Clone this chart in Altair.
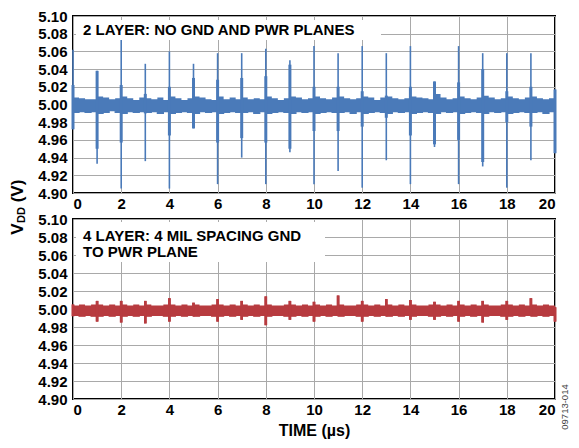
import altair as alt
import pandas as pd

# ---------------- data ----------------
# sample times of the noise envelope (µs)
band_t = [i / 4 for i in range(81)]

# top panel (2 layer) noise envelope, 4 samples per µs + final
top_band_hi = [
    5.008, 5.007, 5.006, 5.006,
    5.009, 5.008, 5.006, 5.007,
    5.009, 5.007, 5.005, 5.008,
    5.007, 5.006, 5.008, 5.005,
    5.009, 5.007, 5.005, 5.007,
    5.009, 5.008, 5.006, 5.005,
    5.009, 5.006, 5.008, 5.006,
    5.008, 5.006, 5.007, 5.006,
    5.009, 5.007, 5.005, 5.007,
    5.009, 5.008, 5.006, 5.007,
    5.009, 5.007, 5.006, 5.008,
    5.009, 5.007, 5.006, 5.007,
    5.009, 5.008, 5.005, 5.008,
    5.009, 5.007, 5.006, 5.007,
    5.009, 5.008, 5.007, 5.006,
    5.012, 5.008, 5.006, 5.007,
    5.009, 5.007, 5.006, 5.008,
    5.010, 5.008, 5.006, 5.007,
    5.009, 5.007, 5.006, 5.008,
    5.009, 5.007, 5.006, 5.007,
    5.008,
]
top_band_lo = [
    4.991, 4.992, 4.991, 4.992,
    4.990, 4.991, 4.993, 4.991,
    4.990, 4.992, 4.991, 4.992,
    4.991, 4.992, 4.990, 4.992,
    4.990, 4.991, 4.992, 4.991,
    4.990, 4.992, 4.991, 4.992,
    4.990, 4.991, 4.992, 4.991,
    4.991, 4.992, 4.990, 4.992,
    4.990, 4.991, 4.992, 4.991,
    4.990, 4.992, 4.991, 4.992,
    4.990, 4.991, 4.992, 4.991,
    4.991, 4.992, 4.990, 4.992,
    4.990, 4.991, 4.992, 4.991,
    4.990, 4.992, 4.991, 4.992,
    4.990, 4.991, 4.992, 4.991,
    4.990, 4.992, 4.991, 4.992,
    4.990, 4.991, 4.992, 4.991,
    4.990, 4.992, 4.991, 4.992,
    4.990, 4.991, 4.992, 4.991,
    4.991, 4.992, 4.990, 4.992,
    4.991,
]

# switching spikes, one per µs
spike_t = list(range(21))
top_spike_hi = [5.062, 5.038, 5.073, 5.046, 5.060, 5.046, 5.058, 5.058, 5.063, 5.050, 5.066,
                5.058, 5.066, 5.058, 5.066, 5.026, 5.066, 5.058, 5.058, 5.058, 5.017]
top_spike_lo = [4.972, 4.933, 4.905, 4.936, 4.905, 4.973, 4.910, 4.940, 4.910, 4.946, 4.910,
                4.925, 4.906, 4.937, 4.910, 4.952, 4.910, 4.930, 4.906, 4.937, 4.945]
top_core_hi = [5.022, 5.038, 5.022, 5.012, 5.020, 5.030, 5.028, 5.030, 5.032, 5.045, 5.020,
               5.020, 5.015, 5.010, 5.020, 5.026, 5.025, 5.040, 5.015, 5.020, 5.017]
top_core_lo = [4.972, 4.950, 4.957, 4.990, 4.965, 4.973, 4.957, 4.962, 4.957, 4.950, 4.970,
               4.970, 4.975, 4.985, 4.965, 4.955, 4.960, 4.935, 4.980, 4.975, 4.945]

# bottom panel (4 layer) noise envelope
bot_band_hi = [
    5.004, 5.005, 5.004, 5.005,
    5.005, 5.004, 5.005, 5.004,
    5.005, 5.004, 5.005, 5.004,
    5.005, 5.004, 5.004, 5.005,
    5.005, 5.004, 5.005, 5.004,
    5.005, 5.004, 5.004, 5.005,
    5.005, 5.004, 5.005, 5.004,
    5.005, 5.004, 5.005, 5.004,
    5.005, 5.004, 5.004, 5.005,
    5.005, 5.004, 5.005, 5.004,
    5.005, 5.004, 5.005, 5.004,
    5.005, 5.004, 5.004, 5.005,
    5.005, 5.004, 5.005, 5.004,
    5.005, 5.004, 5.005, 5.004,
    5.005, 5.004, 5.004, 5.005,
    5.005, 5.004, 5.005, 5.004,
    5.005, 5.004, 5.005, 5.004,
    5.005, 5.004, 5.004, 5.005,
    5.005, 5.004, 5.005, 5.004,
    5.005, 5.004, 5.005, 5.004,
    5.004,
]
bot_band_lo = [
    4.993, 4.992, 4.993, 4.992,
    4.992, 4.993, 4.992, 4.993,
    4.992, 4.993, 4.992, 4.993,
    4.992, 4.993, 4.993, 4.992,
    4.992, 4.993, 4.992, 4.993,
    4.992, 4.993, 4.993, 4.992,
    4.992, 4.993, 4.992, 4.993,
    4.992, 4.993, 4.992, 4.993,
    4.992, 4.993, 4.993, 4.992,
    4.992, 4.993, 4.992, 4.993,
    4.992, 4.993, 4.992, 4.993,
    4.992, 4.993, 4.993, 4.992,
    4.992, 4.993, 4.992, 4.993,
    4.992, 4.993, 4.992, 4.993,
    4.992, 4.993, 4.993, 4.992,
    4.992, 4.993, 4.992, 4.993,
    4.992, 4.993, 4.992, 4.993,
    4.992, 4.993, 4.993, 4.992,
    4.992, 4.993, 4.992, 4.993,
    4.992, 4.993, 4.992, 4.993,
    4.991,
]
bot_spike_hi = [5.005, 5.009, 5.009, 5.009, 5.012, 5.007, 5.011, 5.009, 5.014, 5.009, 5.008,
                5.015, 5.009, 5.011, 5.010, 5.008, 5.009, 5.009, 5.009, 5.012, 5.002]
bot_spike_lo = [4.992, 4.986, 4.985, 4.984, 4.986, 4.992, 4.986, 4.988, 4.982, 4.988, 4.986,
                4.993, 4.986, 4.992, 4.988, 4.988, 4.986, 4.985, 4.988, 4.993, 4.986]

x_ticks = [0, 2, 4, 6, 8, 10, 12, 14, 16, 18, 20]
y_ticks = [4.90, 4.92, 4.94, 4.96, 4.98, 5.00, 5.02, 5.04, 5.06, 5.08, 5.10]

top_label = "2 LAYER: NO GND AND PWR PLANES"
bot_label = ["4 LAYER: 4 MIL SPACING GND", "TO PWR PLANE"]
x_title = "TIME (µs)"
code_label = "09713-014"

BLUE = "#4a7ab9"
RED = "#b73b3f"
FONT = "Liberation Sans"

# ---------------- helpers ----------------
W = 482
H_TOP = 177
H_BOT = 180


def enc_x(title=None):
    return alt.X("t:Q", scale=alt.Scale(domain=[0, 20], nice=False),
                 axis=alt.Axis(values=x_ticks, title=title, labelPadding=3,
                               titlePadding=5))


def enc_y():
    return alt.Y("lo:Q", scale=alt.Scale(domain=[4.90, 5.10], nice=False, zero=False),
                 axis=alt.Axis(values=y_ticks, format=".2f", title=None, labelPadding=6))


def panel(band_hi, band_lo, sp_hi, sp_lo, core_hi, core_lo, color, title=None,
          spike_w=1.6, core_w=3.0):
    band_df = pd.DataFrame({"t": band_t, "lo": band_lo, "hi": band_hi})
    sp_df = pd.DataFrame({"t": spike_t, "lo": sp_lo, "hi": sp_hi})
    core_df = pd.DataFrame({"t": spike_t, "lo": core_lo, "hi": core_hi})
    band = alt.Chart(band_df).mark_area(color=color, interpolate="step-after", opacity=1,
                                        line={"color": color, "strokeWidth": 1.2}).encode(
        x=enc_x(title), y=enc_y(), y2="hi:Q")
    spikes = alt.Chart(sp_df).mark_rule(color=color, strokeWidth=spike_w).encode(
        x=enc_x(title), y=enc_y(), y2="hi:Q")
    core = alt.Chart(core_df).mark_rule(color=color, strokeWidth=core_w).encode(
        x=enc_x(title), y=enc_y(), y2="hi:Q")
    return [band, spikes, core]


one = alt.Data(values=[{"k": 1}])


def box(x1, x2, y1, y2):
    return alt.Chart(one).mark_rect(color="white", opacity=1).encode(
        x=alt.value(x1), x2=alt.value(x2), y=alt.value(y1), y2=alt.value(y2))


def label(text, x, y, size=15, angle=0, align="left", color="black", weight="bold"):
    return alt.Chart(one).mark_text(text=text, font=FONT, fontSize=size, fontWeight=weight,
                                    color=color, align=align, baseline="middle",
                                    angle=angle).encode(x=alt.value(x), y=alt.value(y))


# ---------------- top panel ----------------
top_layers = panel(top_band_hi, top_band_lo, top_spike_hi, top_spike_lo,
                   top_core_hi, top_core_lo, BLUE)
top = alt.layer(
    *top_layers,
    box(3, 308, 4, 24),
    label(top_label, 10, 14),
    label("V", -55, 213, size=17, angle=270, align="center"),
    label("DD", -51, 199, size=11, angle=270, align="center"),
    label("(V)", -55, 175, size=17, angle=270, align="center"),
).properties(width=W, height=H_TOP)

# ---------------- bottom panel ----------------
bot_layers = panel(bot_band_hi, bot_band_lo, bot_spike_hi, bot_spike_lo,
                   bot_spike_hi, bot_spike_lo, RED, title=x_title,
                   spike_w=2.6, core_w=2.6)
bot = alt.layer(
    *bot_layers,
    box(3, 252, 3, 43),
    label(bot_label[0], 10, 17),
    label(bot_label[1], 10, 33),
    label(code_label, 492, 188, size=9.5, angle=270, align="center", color="#444444",
          weight="normal"),
).properties(width=W, height=H_BOT)

chart = alt.vconcat(top, bot, spacing=26, bounds="flush").properties(
    padding={"left": 0, "top": 0, "right": 0, "bottom": 0}
).configure_axis(
    labelFont=FONT, labelFontSize=15, labelFontWeight="bold", labelColor="black",
    titleFont=FONT, titleFontSize=16, titleFontWeight="bold", titleColor="black",
    grid=True, gridColor="#a9a9a9", gridWidth=1, gridOpacity=1,
    domain=False, ticks=False,
).configure_view(stroke="black", strokeWidth=2)

chart.save("out.html", embed_options={"renderer": "svg", "actions": False})
